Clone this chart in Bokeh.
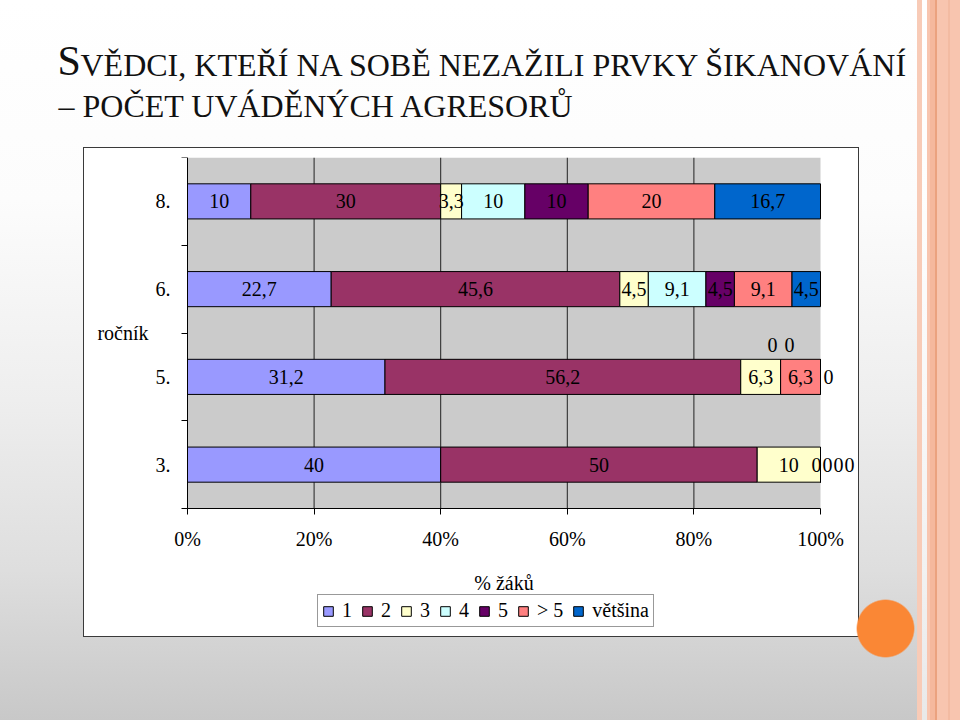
from bokeh.plotting import figure
from bokeh.models import (ColumnDataSource, BoxAnnotation, LabelSet, Label, Title,
                          FixedTicker, Legend, LegendItem)
from bokeh.embed import file_html
from bokeh.resources import INLINE

# ---------------- data ----------------
categories = ["8.", "6.", "5.", "3."]          # top to bottom
series_names = ["1", "2", "3", "4", "5", "> 5", "většina"]
values = {
    "1":       [10.0, 22.7, 31.2, 40.0],
    "2":       [30.0, 45.6, 56.2, 50.0],
    "3":       [3.3, 4.5, 6.3, 10.0],
    "4":       [10.0, 9.1, 0.0, 0.0],
    "5":       [10.0, 4.5, 0.0, 0.0],
    "> 5":     [20.0, 9.1, 6.3, 0.0],
    "většina": [16.7, 4.5, 0.0, 0.0],
}
x_ticks = [0, 20, 40, 60, 80, 100]
x_tick_labels = ["0%", "20%", "40%", "60%", "80%", "100%"]
x_title = "% žáků"
y_title = "ročník"
colors = ["#9999FF", "#993366", "#FFFFCC", "#CCFFFF", "#660066", "#FF8080", "#0066CC"]

# nudges (px) for zero-width segment labels, as placed in the original
zero_nudge = {
    ("5.", "4"): (-8, 32), ("5.", "5"): (9, 32), ("5.", "většina"): (8, 0),
    ("3.", "4"): (-4, 0), ("3.", "5"): (7, 0), ("3.", "> 5"): (18, 0),
    ("3.", "většina"): (29, 0),
}

# ---------------- layout constants ----------------
W, H = 960, 720
FL, FR, FT, FB = 60, 858, 157, 628    # frame edges in page pixels
X0, X100, Y0 = 187, 820, 508          # pixels of 0 %, 100 % and of the x axis
SERIF = "Liberation Serif"

n = len(categories)
ypos = [n - 1 - i + 0.5 for i in range(n)]   # numeric band centres
ppu = (X100 - X0) / 100.0
x_start = -(X0 - FL) / ppu
x_end = (FR - X0) / ppu
y_start = -n * (FB - Y0) / (Y0 - FT)

src = {"y": ypos}
keys = []
for k, s in enumerate(series_names):
    key = "s%d" % k
    keys.append(key)
    src[key] = values[s]
source = ColumnDataSource(src)

background = ", ".join([
    "radial-gradient(circle at 885.5px 628.5px, #FA8735 0px, #FA8735 28px, rgba(250,135,53,0) 29.5px)",
    "linear-gradient(#ffffff, #ffffff) 84px 148px / 774px 488px no-repeat",
    "linear-gradient(#3a3a3a, #3a3a3a) 83px 147px / 776px 490px no-repeat",
    "linear-gradient(to right, #F8CBB7 0px, #F8CBB7 5px, rgba(255,255,255,0.6) 5px, "
    "rgba(255,255,255,0.6) 10px, #F8C5AF 10px, #F8C5AF 13px, #F5B89D 13px, #F5B89D 18px, "
    "#EBA27F 18px, #EBA27F 20px, #F8C5AF 20px, #F8C5AF 31px, #F3BBA2 31px, #F3BBA2 33px, "
    "#F8C5AF 33px) 917px 0px / 43px 720px no-repeat",
    "linear-gradient(to bottom, #ffffff 0px, #fcfcfc 200px, #eeeeee 400px, #dedede 570px, #c8c8c8 720px)",
])

p = figure(width=W, height=H, output_backend="svg", toolbar_location=None,
           title=None, x_range=(x_start, x_end), y_range=(y_start, n),
           min_border_left=FL, min_border_right=W - FR,
           min_border_top=FT, min_border_bottom=H - FB)
p.styles = {"background": background}
p.border_fill_alpha = 0
p.background_fill_alpha = 0
p.outline_line_color = None

# plot area (grey)
p.add_layout(BoxAnnotation(left=0, right=100, bottom=0, top=n, fill_color="#CBCBCB",
                           fill_alpha=1, line_color=None, level="image"))

# title rows, listed from the frame outwards
def title(text, size, standoff, offset):
    p.add_layout(Title(text=text, align="left", offset=offset - FL, text_font=SERIF,
                       text_font_size=size, text_font_style="normal",
                       text_color="#111111", standoff=standoff), "above")

title(" ", "8px", 1.5, 58)                                    # spacer
title("– POČET UVÁDĚNÝCH AGRESORŮ", "32px", 41.2, 58)
title("VĚDCI, KTEŘÍ NA SOBĚ NEZAŽILI PRVKY ŠIKANOVÁNÍ", "32px", -34, 80)
title("S", "42px", -45, 57)

# grid lines (at the tick values, inside the bars' extent)
grid_x = [t for t in x_ticks if 0 < t < 100]
p.segment(x0=grid_x, y0=[0] * len(grid_x), x1=grid_x, y1=[n] * len(grid_x),
          line_color="#222222", line_width=1)

# bars
rs = p.hbar_stack(keys, y="y", height=0.4, source=source, fill_color=colors,
                  line_color="black", line_width=1)

# bar labels
lx, ly, lt, lxo, lyo = [], [], [], [], []
for i, cat in enumerate(categories):
    left = 0.0
    for s in series_names:
        v = values[s][i]
        lx.append(left + v / 2)
        ly.append(ypos[i])
        lt.append(("%g" % v).replace(".", ","))
        xo, yo = zero_nudge.get((cat, s), (0, 0)) if v == 0 else (0, 0)
        lxo.append(xo)
        lyo.append(yo)
        left += v
lab_src = ColumnDataSource(dict(x=lx, y=ly, text=lt, xo=lxo, yo=lyo))
p.add_layout(LabelSet(x="x", y="y", text="text", x_offset="xo", y_offset="yo",
                      source=lab_src, text_align="center", text_baseline="middle",
                      text_font=SERIF, text_font_size="20px", text_color="black"))

p.xgrid.visible = False
p.ygrid.visible = False

# x axis
xa = p.xaxis[0]
xa.fixed_location = 0
xa.bounds = (0, 100)
xa.ticker = FixedTicker(ticks=x_ticks)
xa.major_label_overrides = {t: l for t, l in zip(x_ticks, x_tick_labels)}
xa.major_label_text_font = SERIF
xa.major_label_text_font_size = "20px"
xa.major_label_text_color = "black"
xa.major_tick_in = 0
xa.major_tick_out = 6
xa.minor_tick_out = 0
xa.major_tick_line_color = "black"
xa.axis_line_color = "black"
xa.major_label_standoff = 13

# y axis
ya = p.yaxis[0]
ya.fixed_location = 0
ya.bounds = (0, n)
ya.ticker = FixedTicker(ticks=ypos, minor_ticks=list(range(n + 1)))
ya.major_label_overrides = {y: c for y, c in zip(ypos, categories)}
ya.major_label_text_font = SERIF
ya.major_label_text_font_size = "20px"
ya.major_label_text_color = "black"
ya.major_tick_in = 0
ya.major_tick_out = 0
ya.minor_tick_in = 0
ya.minor_tick_out = 6
ya.minor_tick_line_color = "black"
ya.axis_line_color = "black"
ya.major_label_standoff = 11

# axis titles
p.add_layout(Label(x=50, y=0, y_offset=-(582 - Y0), text=x_title, text_align="center",
                   text_baseline="middle", text_font=SERIF, text_font_size="20px",
                   text_color="black"))
p.add_layout(Label(x=148 - FL, x_units="screen", y=n / 2, text=y_title, text_align="right",
                   text_baseline="middle", text_font=SERIF, text_font_size="20px",
                   text_color="black"))

# legend
lg = Legend(items=[LegendItem(label=s, renderers=[r]) for s, r in zip(series_names, rs)],
            orientation="horizontal", location=(317 - FL, 1),
            glyph_width=12, glyph_height=12, label_standoff=8, spacing=9,
            padding=4, margin=0, label_height=17, label_width=0,
            label_text_font=SERIF, label_text_font_size="20px",
            label_text_color="black", border_line_color="#333333",
            border_line_width=1, background_fill_color="white",
            background_fill_alpha=1)
p.add_layout(lg)

open("out.html", "w").write(file_html(p, INLINE))
